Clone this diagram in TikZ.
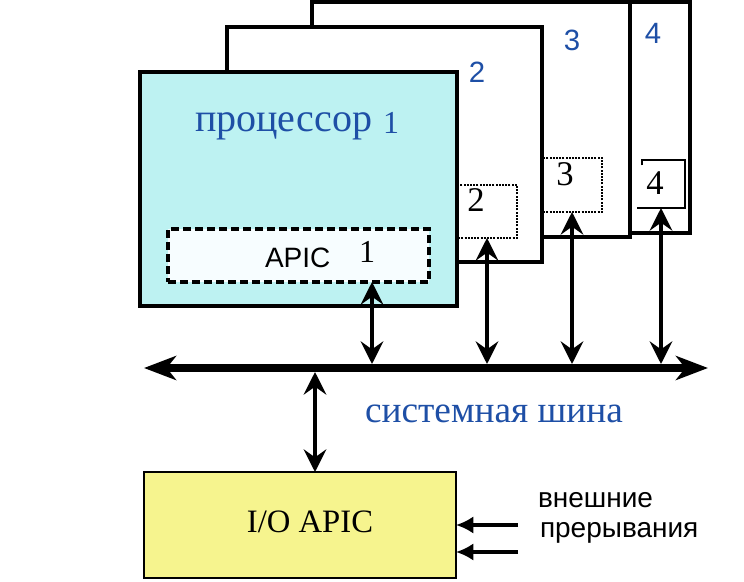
\documentclass[tikz,border=0pt]{standalone}
\usepackage{fontspec}
\setmainfont{Liberation Serif}
\setsansfont{Liberation Sans}
\usetikzlibrary{arrows.meta}
\definecolor{cpucyan}{HTML}{BDF2F2}
\definecolor{ioyellow}{HTML}{F6F48E}
\definecolor{lblblue}{HTML}{1E4FA6}
\tikzset{
  boxbase/.style={rectangle,inner sep=0pt,outer sep=0pt,anchor=north west},
  cpubox/.style={boxbase,draw=black,line width=2.6pt,fill=white},
  apicdash/.style={boxbase,draw=black,line width=2.4pt,dash pattern=on 6pt off 3pt,fill=white!97!cyan},
  apicdot/.style={boxbase,draw=black,line width=2pt,dash pattern=on 1.5pt off 0.9pt,fill=white},
  txt/.style={inner sep=0pt,outer sep=0pt},
  bluelbl/.style={txt,text=lblblue,font=\sffamily\fontsize{22}{24}\selectfont},
  numlbl/.style={txt,font=\fontsize{26}{28}\selectfont},
  bus/.style={line width=6pt,{Stealth[length=24pt,width=18pt,inset=7pt]}-{Stealth[length=24pt,width=18pt,inset=7pt]}},
  varrow/.style={line width=2.4pt,{Stealth[length=17pt,width=17pt,inset=6pt]}-{Stealth[length=17pt,width=17pt,inset=6pt]}},
  inarrow/.style={line width=2.4pt,-{Latex[length=13pt,width=13pt]}},
}
\begin{document}
\begin{tikzpicture}[x=0.75pt,y=-0.75pt]
\useasboundingbox (0,0) rectangle (744,582);
% processor 4
\node[cpubox,line width=2.4pt,minimum width=217.5pt,minimum height=173.25pt] (p4) at (400,2) {};
\node[boxbase,minimum width=32.25pt,minimum height=36pt] (a4) at (642,160) {};
\draw[line width=2.2pt] ([yshift=-4pt]a4.north west) -- (a4.north west) -- (a4.north east) -- (a4.south east) -- ([xshift=-4pt]a4.south west);
\node[numlbl] (n4) at (655,183) {4};
\node[bluelbl] (l4) at (653,33) {4};
% processor 3
\node[cpubox,minimum width=238.5pt,minimum height=176.25pt] (p3) at (312,2) {};
\node[apicdot,minimum width=46.5pt,minimum height=40.5pt] (a3) at (540,158) {};
\node[numlbl] (n3) at (565,174) {3};
\node[bluelbl] (l3) at (572,40) {3};
% processor 2
\node[cpubox,minimum width=236.25pt,minimum height=176.25pt] (p2) at (227,27) {};
\node[apicdot,minimum width=46.5pt,minimum height=39.75pt] (a2) at (455,185) {};
\node[numlbl] (n2) at (476,200) {2};
\node[bluelbl] (l2) at (477,72) {2};
% processor 1
\node[cpubox,line width=3pt,fill=cpucyan,minimum width=237.75pt,minimum height=175.5pt] (p1) at (140,72) {};
\node[txt,anchor=base west,text=lblblue,font=\fontsize{30}{32}\selectfont] (t1) at (195,131) {процессор};
\node[txt,anchor=base,text=lblblue,font=\fontsize{24}{26}\selectfont] (t1n) at (391,133) {1};
\node[apicdash,minimum width=195.75pt,minimum height=39.75pt] (a1) at (168,229) {};
\node[txt,anchor=base west,font=\sffamily\fontsize{21}{24}\selectfont] (a1t) at (265,267) {APIC};
\node[txt,anchor=base,font=\fontsize{24}{26}\selectfont] (a1n) at (367,262) {1};
% bus
\coordinate (busL) at (144,368);
\coordinate (busR) at (708,368);
\draw[bus] (busL) -- (busR);
\coordinate (c1) at (372,364);
\coordinate (c2) at (487,364);
\coordinate (c3) at (572,364);
\coordinate (c4) at (661,364);
\coordinate (c5) at (315,372);
\draw[varrow] (c1 |- a1.south) -- (c1);
\draw[varrow] (c2 |- a2.south) -- (c2);
\draw[varrow] (c3 |- a3.south) -- (c3);
\draw[varrow] (c4 |- a4.south) -- (c4);
\node[txt,anchor=base west,text=lblblue,font=\fontsize{28}{30}\selectfont] (bust) at (365,422) {системная шина};
% I/O APIC
\node[boxbase,draw=black,line width=1.8pt,fill=ioyellow,minimum width=234pt,minimum height=79.5pt] (io) at (144,472) {};
\node[txt,anchor=base,font=\fontsize{24.5}{26}\selectfont] (iot) at (310,532) {I/O APIC};
\draw[varrow] (c5) -- (c5 |- io.north);
\coordinate (e1) at (518,525);
\coordinate (e2) at (518,552);
\draw[inarrow] (e1) -- (e1 -| io.east);
\draw[inarrow] (e2) -- (e2 -| io.east);
\node[txt,anchor=base west,font=\sffamily\fontsize{21}{24}\selectfont] (ext1) at (538,507) {внешние};
\node[txt,anchor=base west,font=\sffamily\fontsize{21}{24}\selectfont] (ext2) at (540,537) {прерывания};
\end{tikzpicture}
\end{document}
